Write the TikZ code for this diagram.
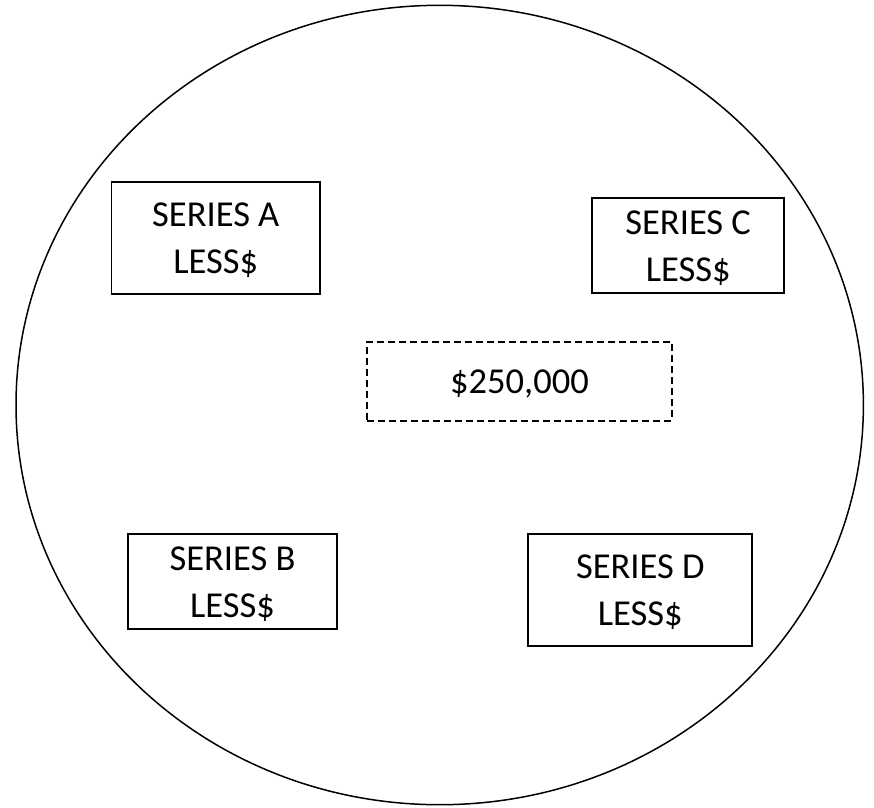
\documentclass[tikz,border=0pt]{standalone}
\usepackage{fontspec}
\setmainfont{Carlito}
\begin{document}
\begin{tikzpicture}[x=1pt,y=1pt,
  seriesbox/.style={draw=black, line width=1.8pt, inner sep=0pt, align=center,
    text depth=0pt, font=\fontsize{36.5}{47}\selectfont},
  sumbox/.style={draw=black, line width=1.9pt, dash pattern=on 7pt off 4pt, inner sep=0pt,
    text depth=0pt, font=\fontsize{36.5}{47}\selectfont},
  outline/.style={draw=black, line width=1.5pt}]
\useasboundingbox (0,0) rectangle (874,-807);
\draw[outline] (439.7,-405) ellipse [x radius=423.7, y radius=399.7];
\node[seriesbox, minimum width=208.5pt, minimum height=112pt] (A) at (215.8,-238) {SERIES A\\LESS\$};
\node[seriesbox, minimum width=191.7pt, minimum height=95pt] (C) at (688.2,-245.8) {SERIES C\\LESS\$};
\node[seriesbox, minimum width=208.4pt, minimum height=95.3pt] (B) at (232.5,-581.7) {SERIES B\\LESS\$};
\node[seriesbox, minimum width=224pt, minimum height=111.7pt] (D) at (640.3,-589.8) {SERIES D\\LESS\$};
\node[sumbox, minimum width=304.4pt, minimum height=79.3pt] (S) at (519.5,-381.3) {\$250,000};
\end{tikzpicture}
\end{document}
